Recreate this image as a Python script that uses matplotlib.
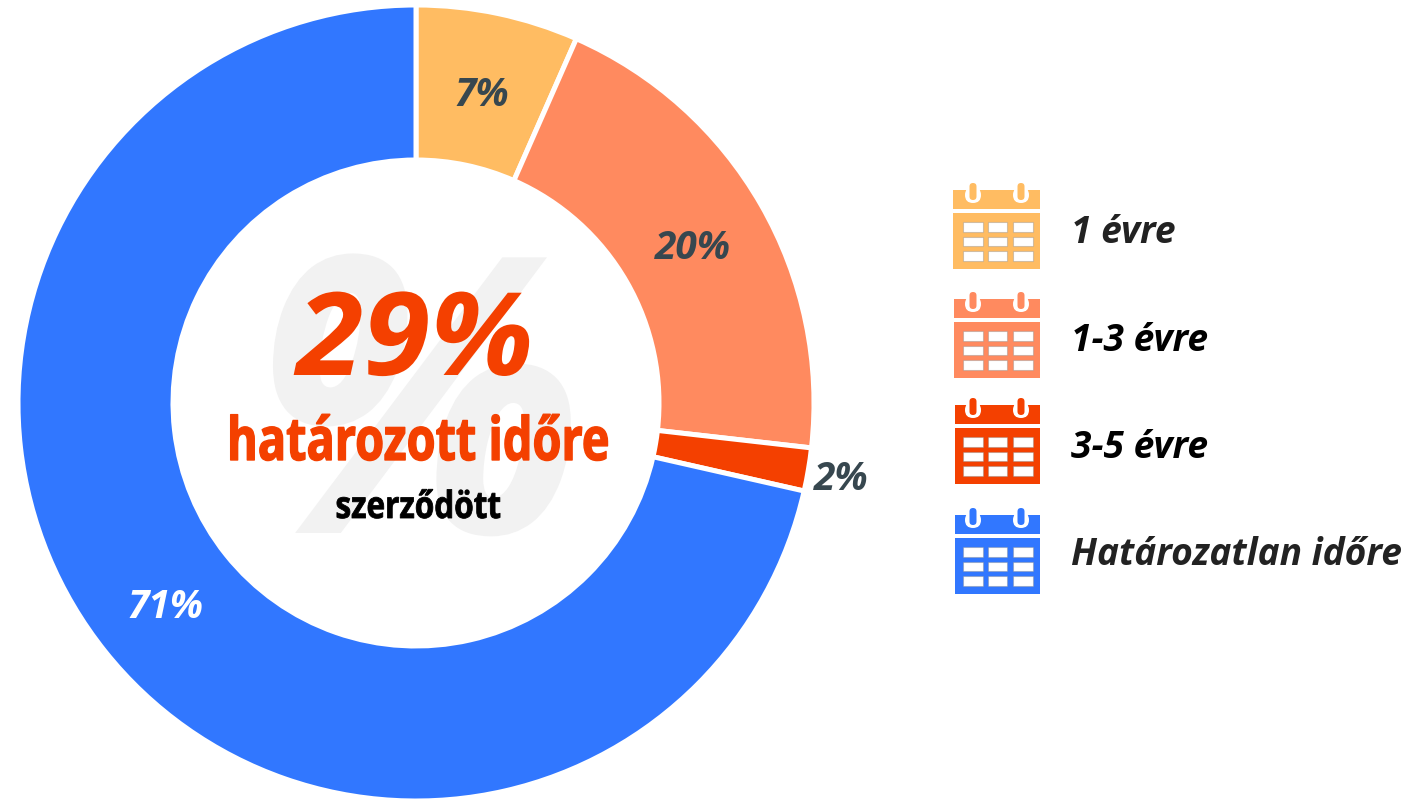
import matplotlib
matplotlib.use("Agg")
import matplotlib.pyplot as plt
import matplotlib.patheffects as pe
from matplotlib.patches import Rectangle, FancyBboxPatch
from matplotlib.transforms import Affine2D
import numpy as np

H = 799

# values (shares as drawn, printed labels below)
shares = [6.6, 20.2, 1.75, 71.45]
pct_labels = ["7%", "20%", "2%", "71%"]
legend_labels = ["1 évre", "1-3 évre", "3-5 évre", "Határozatlan időre"]
colors = ["#FFBC62", "#FF8A5F", "#F44000", "#3177FF"]
pct_colors = ["#37474F", "#37474F", "#37474F", "#FFFFFF"]
legend_colors = ["#222222", "#000000", "#000000", "#222222"]
label_radius = [318, 319, 431, 321]
icon_tops = [183, 292, 398, 508]
icon_lefts = [953, 954, 955, 955]
legend_base = [243, 351, 458, 565]

BOLD_IT = dict(family="Open Sans", weight="bold", style="italic")
BOLD = dict(family="Open Sans", weight="bold")


class Squeeze(pe.AbstractPathEffect):
    # no condensed font here, so scale the glyphs sideways around a pixel x
    def __init__(self, sx, x_px, lw=0):
        super().__init__()
        self.sx = sx
        self.x_px = x_px
        self.lw = lw

    def draw_path(self, renderer, gc, tpath, affine, rgbFace=None):
        squeeze = Affine2D().translate(-self.x_px, 0).scale(self.sx, 1).translate(self.x_px, 0)
        gc0 = renderer.new_gc()
        gc0.copy_properties(gc)
        gc0.set_linewidth(self.lw)
        gc0.set_foreground(rgbFace)
        renderer.draw_path(gc0, tpath, affine + squeeze, rgbFace)
        gc0.restore()


fig = plt.figure(figsize=(14.17, 7.99), dpi=100)
ax = fig.add_axes([0, 0, 1, 1])

cx, cy, R = 416, H - 403, 398
wedges, _ = ax.pie(shares, colors=colors, startangle=90, counterclock=False,
                   center=(cx, cy), radius=R,
                   wedgeprops=dict(width=155, edgecolor="white", linewidth=3.6))
ax.set_xlim(0, 1417)
ax.set_ylim(0, H)
ax.axis("off")

for w, txt, col, r in zip(wedges, pct_labels, pct_colors, label_radius):
    a = np.deg2rad((w.theta1 + w.theta2) / 2)
    ax.text(cx + r * np.cos(a), cy + r * np.sin(a) - 4, txt, color=col, fontsize=28,
            ha="center", va="center", **BOLD_IT)

# centre texts
ax.text(418, H - 533, "%", color="#F2F2F2", fontsize=278, ha="center", va="baseline",
        zorder=1, path_effects=[Squeeze(1.01, 418)], **BOLD_IT)
ax.text(415, H - 375, "29%", color="#F44000", fontsize=83, ha="center", va="baseline",
        zorder=2, path_effects=[Squeeze(1.05, 415)], **BOLD_IT)
ax.text(418, H - 460, "határozott időre", color="#F44000", fontsize=43, ha="center",
        va="baseline", zorder=2, path_effects=[Squeeze(0.785, 418, 1.0)], **BOLD)
ax.text(418, H - 518, "szerződött", color="black", fontsize=27, ha="center",
        va="baseline", zorder=2, path_effects=[Squeeze(0.84, 418, 0.6)], **BOLD)


def calendar(x0, top, col):
    y = lambda v: H - (top + v)
    right = 1040
    ax.add_patch(Rectangle((x0, y(26)), right - x0, 19, fc=col, ec="none", zorder=3))
    ax.add_patch(Rectangle((x0, y(86)), right - x0, 56, fc=col, ec="none", zorder=3))
    for rx in (973, 1021):
        ax.add_patch(FancyBboxPatch((rx - 8, y(20)), 16, 16,
                                    boxstyle="round,pad=0,rounding_size=8", fc="white",
                                    ec="none", zorder=4))
        ax.add_patch(FancyBboxPatch((rx - 3.5, y(17)), 7, 17,
                                    boxstyle="round,pad=0,rounding_size=3.5", fc=col,
                                    ec="none", zorder=5))
    for cell_x, cell_w in ((963, 20), (988, 19), (1013, 20)):
        for cell_y, cell_h in ((39, 10), (54, 9), (68, 10)):
            ax.add_patch(Rectangle((cell_x, y(cell_y + cell_h)), cell_w, cell_h, fc="white",
                                   ec=(0.5, 0.5, 0.5, 0.35), lw=0.8, zorder=4))


for left, top, col, txt, tcol, ty in zip(icon_lefts, icon_tops, colors, legend_labels,
                                         legend_colors, legend_base):
    calendar(left, top, col)
    ax.text(1071, H - ty, txt, color=tcol, fontsize=26.7, ha="left", va="baseline", **BOLD_IT)

fig.savefig("out.png", dpi=100)
